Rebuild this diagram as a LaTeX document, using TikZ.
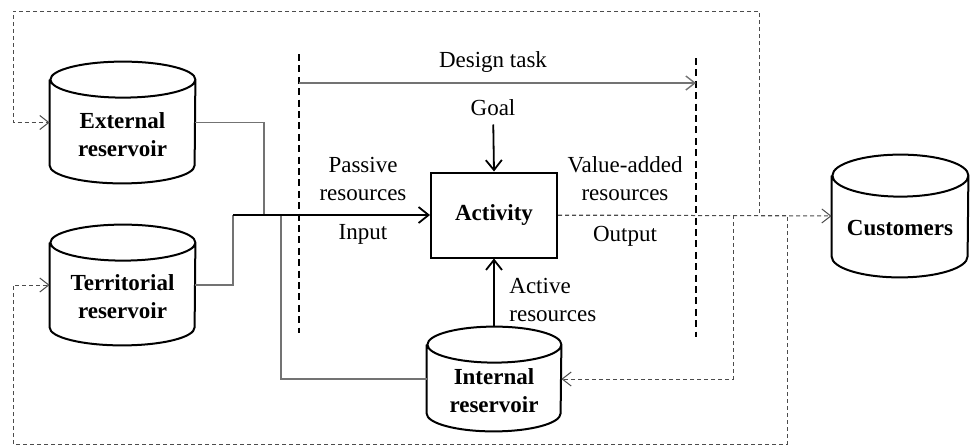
\documentclass[tikz,border=0pt]{standalone}
\usepackage{fontspec}
\setmainfont{Liberation Serif}
\usetikzlibrary{arrows.meta}
\tikzstyle{db} = [rectangle, inner sep=0pt]
\tikzstyle{dbtext} = [align=center, font=\bfseries, yshift=-6pt]
\tikzstyle{activity} = [rectangle, minimum width = 63pt, minimum height=42.5pt, draw = black, line width=1pt, font=\bfseries]
\tikzstyle{txt} = [align=center, inner sep=1pt]
\tikzstyle{arrow} = [-{Straight Barb[length=5pt,width=8pt]}, line width=0.9pt]
\tikzstyle{link} = [draw = black!55, line width=0.7pt]
\tikzstyle{feed} = [-{Straight Barb[length=4.5pt,width=7pt]}, draw = black!70, line width=0.5pt, dash pattern=on 2pt off 1.5pt]
\tikzstyle{bound} = [line width=1pt, dash pattern=on 3.5pt off 2.2pt]
% cylinder outline round a node: name, half width, ellipse radius
\newcommand{\dbshape}[3]{\draw[line width=1pt] ([yshift=-#3]#1.north west) -- ([yshift=#3]#1.south west) arc[start angle=180, end angle=360, x radius=#2, y radius=#3] -- ([yshift=-#3]#1.north east) arc[start angle=0, end angle=180, x radius=#2, y radius=#3] arc[start angle=180, end angle=360, x radius=#2, y radius=#3];}

\begin{document}
\fontsize{11.5}{14}\selectfont
\begin{tikzpicture}[x=0.5pt, y=-0.5pt]
	\useasboundingbox (0,0) rectangle (970,446);
	% reservoirs and activity
	\node (ext) [db, minimum width=72.5pt, minimum height=60.5pt, label={[dbtext]center:{External\\reservoir}}] at (122.5,122.5) {};
	\node (ter) [db, minimum width=72.5pt, minimum height=60pt, label={[dbtext]center:{Territorial\\reservoir}}] at (122.5,285) {};
	\node (int) [db, minimum width=67pt, minimum height=52pt, label={[dbtext]center:{Internal\\reservoir}}] at (494,379) {};
	\node (cus) [db, minimum width=68pt, minimum height=61pt, label={[dbtext]center:Customers}] at (900,216) {};
	\dbshape{ext}{36.25pt}{9pt}
	\dbshape{ter}{36.25pt}{9pt}
	\dbshape{int}{33.5pt}{9pt}
	\dbshape{cus}{34pt}{10.5pt}
	\node (act) [activity] at (494,215) {Activity};
	\node (task) [txt] at (493,62) {Design task};
	\node (goal) [txt] at (493,108) {Goal};
	\node (pas) [txt] at (363,179) {Passive\\resources};
	\node (inp) [txt] at (363,234) {Input};
	\node (val) [txt] at (625,179) {Value-added\\resources};
	\node (out) [txt] at (625,236) {Output};
	\node (actr) [txt, align=left, anchor=west] at (507,299.5) {Active\\resources};
	\coordinate (bl1) at (299,54);
	\coordinate (bl2) at (299,333);
	\coordinate (br1) at (696,58);
	\coordinate (br2) at (696,337);
	\coordinate (ta) at (299,83);
	\coordinate (tb) at (696,83);
	\coordinate (j1) at (233,215);
	\coordinate (j2) at (264,215);
	\coordinate (j3) at (281,215);
	\coordinate (o1) at (733,215);
	\coordinate (o2) at (759,215);
	\coordinate (o3) at (787,215);
	\coordinate (tl) at (13,11);
	\coordinate (bl) at (13,444);
	\draw [bound](bl1) -- (bl2);
	\draw [bound](br1) -- (br2);
	\draw [link,-{Straight Barb[length=4.5pt,width=7pt]}](ta) -- (tb);
	\draw [link](ter.east) -| (j1);
	\draw [link](ext.east) -| (j2);
	\draw [link](int.west) -| (j3);
	\draw [arrow](j1) -- (act.west);
	\draw [arrow,shorten <=3pt](goal) -- (act.north);
	\draw [arrow](int.north) -- (act.south);
	\draw [feed](act.east) -- (o1) |- (int.east);
	\draw [feed](act.east) -- (o2) |- (tl) |- (ext.west);
	\draw [feed](act.east) -- (o3) |- (bl) |- (ter.west);
	\draw [feed](act.east) -- (cus.west);
\end{tikzpicture}
\end{document}
